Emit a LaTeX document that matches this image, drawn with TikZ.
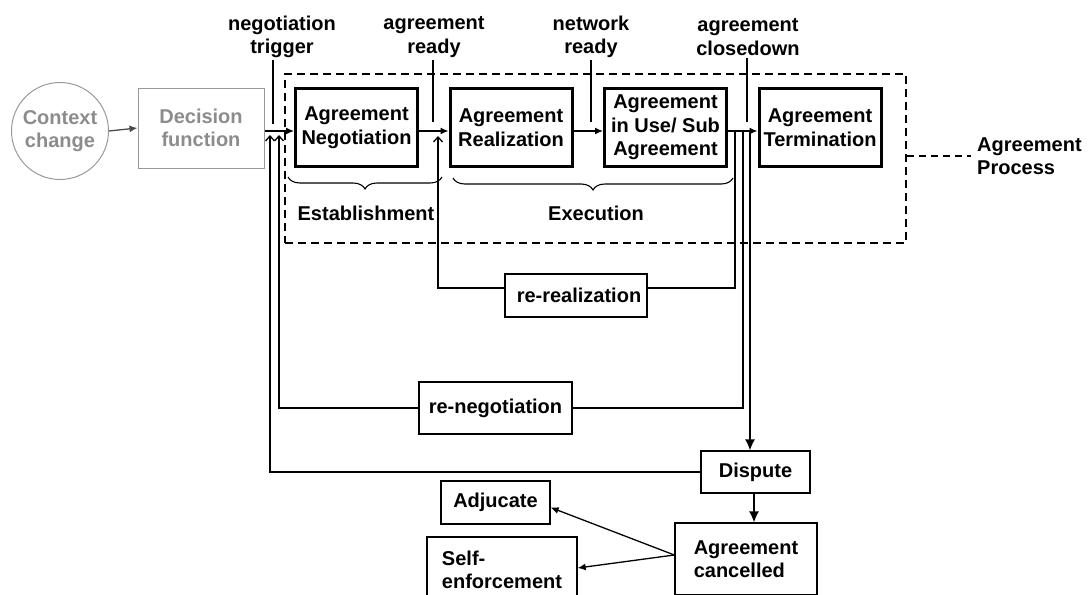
\documentclass[tikz,border=0pt]{standalone}
\usepackage{fontspec}
\setmainfont{Liberation Sans}
\usetikzlibrary{arrows.meta,decorations.pathreplacing,calc}
\begin{document}
\begin{tikzpicture}[x=1pt,y=-1pt,
  font=\fontsize{20}{23.5}\selectfont\bfseries,
  stage/.style={draw,line width=3pt,minimum width=122pt,minimum height=78pt,inner sep=0pt,align=center},
  plainbox/.style={draw,line width=1.3pt,inner sep=0pt,align=center},
  faded/.style={draw=black!40,text=black!45,line width=1pt,inner sep=0pt,align=center},
  fwd/.style={line width=1.3pt,-{Latex[length=8pt,width=7pt]}},
  wire/.style={line width=1.3pt},
  hook/.style={line width=1.3pt,-{Straight Barb[length=5pt,width=9pt]}},
  dropto/.style={line width=1.3pt,-{Latex[length=11pt,width=10pt]}},
  lbl/.style={align=center,inner sep=0pt},
  span/.style={decorate,decoration={brace,mirror,amplitude=12pt},line width=1.1pt}
]
\useasboundingbox (0,0) rectangle (1089,594);
\clip (0,0) rectangle (1089,594);

% enclosing agreement process
\node[draw,dash pattern=on 8pt off 5pt,line width=2.2pt,minimum width=621pt,minimum height=169pt,inner sep=0pt] (proc) at (595.5,158.5) {};
\node[lbl,align=left,anchor=west] (plbl) at (977,156) {Agreement\\Process};
\draw[line width=1.3pt,dash pattern=on 7pt off 5pt] (proc.east |- plbl.west) -- ([xshift=-6pt]plbl.west);

% trigger chain
\node[faded,circle,minimum size=97pt] (ctx) at (60,131) {Context\\change};
\node[faded,minimum width=126pt,minimum height=80pt] (dec) at (201,128) {Decision\\function};

% stages
\node[stage] (neg)  at (356.5,127.5) {Agreement\\Negotiation};
\node[stage] (real) at (511,127.5)   {Agreement\\Realization};
\node[stage] (use)  at (665.5,127.5) {Agreement\\in Use/ Sub\\Agreement};
\node[stage] (term) at (820,127.5)   {Agreement\\Termination};

\coordinate (row) at (0,131);
\draw[fwd,draw=black!70,fill=black!70] (ctx.east) -- (dec.west);
\draw[fwd] (dec.east |- row) -- (neg.west |- row);
\draw[fwd] (neg.east |- row) -- (real.west |- row);
\draw[fwd] (real.east |- row) -- (use.west |- row);
\draw[fwd] (use.east |- row) -- (term.west |- row);

% event labels
\node[lbl] (ltrig)  at (282,37) {negotiation\\trigger};
\node[lbl] (lready) at (434,37) {agreement\\ready};
\node[lbl] (lnet)   at (591,37) {network\\ready};
\node[lbl] (lclose) at (748,37) {agreement\\closedown};
\coordinate (trigx)  at (273,124);
\coordinate (readyx) at (433,122);
\coordinate (netx)   at (591,122);
\coordinate (closex) at (747,122);
\draw[wire] ([yshift=-2pt]ltrig.south -| trigx) -- (trigx);
\draw[wire] ([yshift=-2pt]lready.south -| readyx) -- (readyx);
\draw[wire] ([yshift=-2pt]lnet.south -| netx) -- (netx);
\draw[wire] ([yshift=-2pt]lclose.south -| closex) -- (closex);

% phase braces
\draw[span] (288,177) -- (442,177);
\node[lbl] (est) at (366,213) {Establishment};
\draw[span] (453,178) -- (733,178);
\node[lbl] (exe) at (596,213) {Execution};

% feedback boxes
\node[plainbox,minimum width=142pt,minimum height=43pt] (rereal) at (576,295.5) {\hspace*{6pt}re-realization};
\node[plainbox,minimum width=153pt,minimum height=52pt] (reneg) at (495.5,408) {re-negotiation};
\node[plainbox,minimum width=109pt,minimum height=42pt] (disp) at (755.5,472) {Dispute};
\node[plainbox,minimum width=142pt,minimum height=72pt,align=left] (canc) at (746,559) {Agreement\\cancelled};
\node[plainbox,minimum width=109pt,minimum height=43pt] (adj) at (495.5,502.5) {Adjucate};
\node[plainbox,minimum width=150pt,minimum height=66pt,align=left] (self) at (502,570) {Self-\\enforcement};

% feedback paths
\coordinate (rrout) at (735,131);
\coordinate (rrin)  at (438,136);
\coordinate (rnout) at (743,131);
\coordinate (rnin)  at (279,135);
\coordinate (dsout) at (750,131);
\coordinate (dsin)  at (270,135);
\draw[wire] (rrout) |- ([yshift=7.5pt]rereal.east);
\draw[hook] ([yshift=7.5pt]rereal.west) -| (rrin);
\draw[wire] (rnout) |- (reneg.east);
\draw[hook] (reneg.west) -| (rnin);
\draw[dropto] (dsout) -- (dsout |- disp.north);
\draw[hook] (disp.west) -| (dsin);
\draw[dropto] ([xshift=-1.5pt]disp.south) -- ([xshift=-1.5pt]disp.south |- canc.north);
\draw[fwd] ([yshift=4pt]canc.west) -- ([yshift=-5pt]adj.east);
\draw[fwd] ([yshift=4pt]canc.west) -- ([yshift=2pt]self.east);
\end{tikzpicture}
\end{document}
